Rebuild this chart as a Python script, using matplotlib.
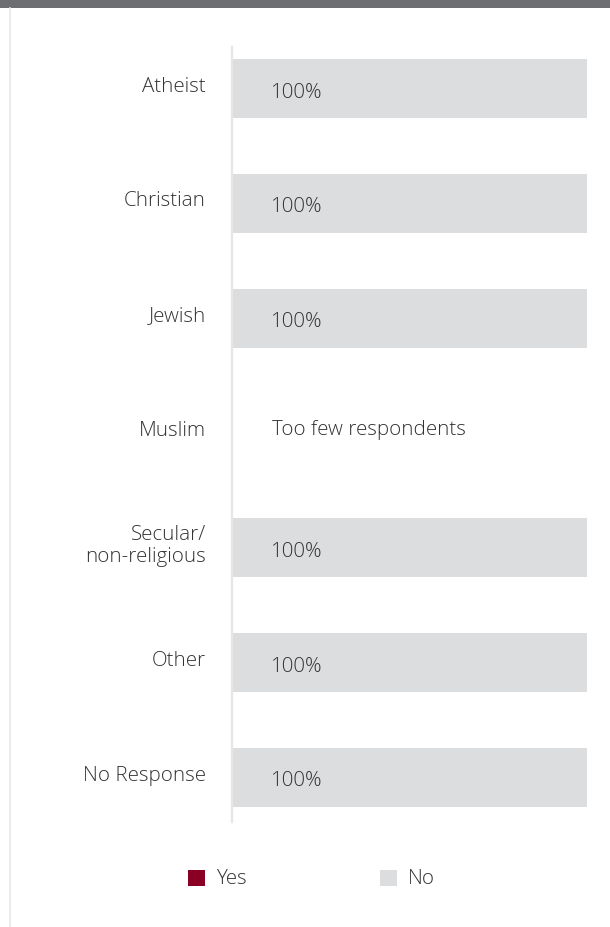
import matplotlib
matplotlib.use("Agg")
import matplotlib.pyplot as plt
from matplotlib.patches import Rectangle
from matplotlib.lines import Line2D

# chart data
categories = ["Atheist", "Christian", "Jewish", "Muslim", "Secular/\nnon-religious", "Other", "No Response"]
yes_values = [0, 0, 0, None, 0, 0, 0]
no_values = [100, 100, 100, None, 100, 100, 100]
no_data_text = "Too few respondents"
legend_labels = ["Yes", "No"]

YES_COLOR = "#8a0024"
NO_COLOR = "#dcdddf"
TEXT_COLOR = "#333333"
FS = 14.8
WEIGHT = "light"

plt.rcParams['font.family'] = ['Open Sans', 'DejaVu Sans']

W, H = 610, 927
fig = plt.figure(figsize=(W / 100, H / 100), dpi=100)

# header band and left border
fig.patches.append(Rectangle((0, 1 - 8 / H), 1, 8 / H, transform=fig.transFigure,
                             facecolor="#6d6e71", edgecolor="none"))
fig.lines.append(Line2D([9.5 / W, 9.5 / W], [0, 1 - 8 / H], transform=fig.transFigure,
                        color="#e8e8e8", linewidth=1.2))

# main axes in pixel coords
ax_left, ax_right, ax_top, ax_bottom = 232, 587, 47, 822
ax = fig.add_axes([ax_left / W, 1 - ax_bottom / H, (ax_right - ax_left) / W, (ax_bottom - ax_top) / H])

y0, y6 = 88.5, 777.5
unit = (y6 - y0) / 6
ax.set_ylim((ax_bottom - y0) / unit, -(y0 - ax_top) / unit)
ax.set_xlim(0, 100)

bar_h = 59 / unit
for i, (cat, yv, nv) in enumerate(zip(categories, yes_values, no_values)):
    ax.annotate(cat, xy=(0, i), xytext=(-26, 2), textcoords="offset pixels",
                ha="right", va="center", fontsize=FS, color=TEXT_COLOR,
                fontweight=WEIGHT, linespacing=1.15)
    if nv is None:
        ax.annotate(no_data_text, xy=(0, i), xytext=(40, 3), textcoords="offset pixels",
                    ha="left", va="center", fontsize=FS, color=TEXT_COLOR, fontweight=WEIGHT)
        continue
    ax.barh(i, yv, height=bar_h, color=YES_COLOR, linewidth=0)
    ax.barh(i, nv, left=yv, height=bar_h, color=NO_COLOR, linewidth=0)
    ax.annotate(f"{nv}%", xy=(0, i), xytext=(39, -4), textcoords="offset pixels",
                ha="left", va="center", fontsize=FS, color=TEXT_COLOR, fontweight=WEIGHT)

ax.set_yticks([])
ax.set_xticks([])
for s in ["top", "right", "bottom"]:
    ax.spines[s].set_visible(False)
ax.spines["left"].set_color("#e6e6e6")
ax.spines["left"].set_linewidth(1.6)

# legend
legend_items = [(legend_labels[0], YES_COLOR, 188), (legend_labels[1], NO_COLOR, 380)]
for label, color, px in legend_items:
    fig.patches.append(Rectangle((px / W, 1 - 886 / H), 17 / W, 16 / H,
                                 transform=fig.transFigure, facecolor=color, edgecolor="none"))
    fig.text((px + 28) / W, 1 - 879 / H, label, ha="left", va="center",
             fontsize=FS, color=TEXT_COLOR, fontweight=WEIGHT)

fig.savefig("out.png", dpi=100)
